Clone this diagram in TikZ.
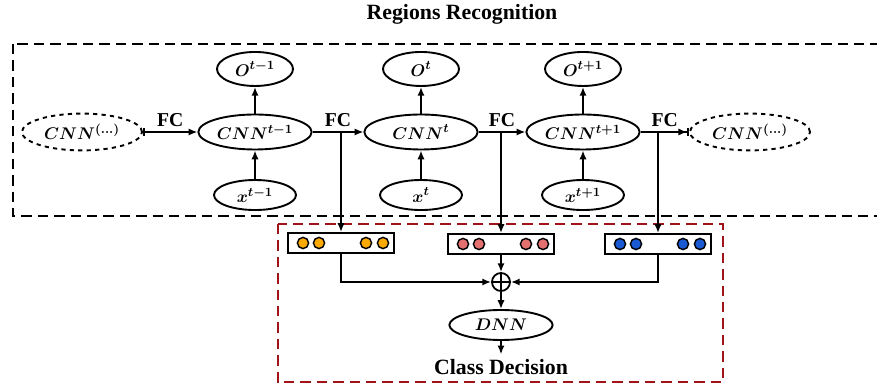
\documentclass[tikz,border=0pt]{standalone}
\usepackage{fontspec}
\setmainfont{Liberation Serif}
\usetikzlibrary{shapes.geometric, arrows.meta, positioning, calc}

\definecolor{framered}{RGB}{160,20,25}
\definecolor{dotorange}{RGB}{255,170,0}
\definecolor{dotpink}{RGB}{228,112,112}
\definecolor{dotblue}{RGB}{25,90,210}

\begin{document}
\begin{tikzpicture}[
  x=0.025cm, y=-0.025cm,
  font=\fontsize{12.5}{14}\selectfont\bfseries\boldmath,
  node distance=1.575cm,
  >={Latex[length=2.2mm,width=1.8mm]},
  cellnode/.style={ellipse, draw, line width=1.35pt, fill=white, inner sep=0pt, minimum width=2.83cm, minimum height=0.875cm},
  outnode/.style={ellipse, draw, line width=1.35pt, inner sep=0pt, minimum width=1.9cm, minimum height=0.85cm},
  innode/.style={ellipse, draw, line width=1.35pt, inner sep=0pt, minimum width=2.05cm, minimum height=0.75cm},
  ghostnode/.style={ellipse, draw, line width=1.35pt, dashed, inner sep=0pt, minimum width=3cm, minimum height=0.92cm},
  vecbox/.style={rectangle, draw, line width=1.35pt, minimum width=2.65cm, minimum height=0.5cm},
  featdot/.style={circle, draw, line width=1pt, inner sep=0pt, minimum size=0.28cm},
  flow/.style={->, line width=1.3pt},
  fclabel/.style={font=\fontsize{14}{16}\selectfont\bfseries},
  caption/.style={font=\fontsize{15.5}{18}\selectfont\bfseries},
  regionframe/.style={line width=1.8pt, dash pattern=on 0.26cm off 0.15cm}
]
\useasboundingbox (0,0) rectangle (877,385);
\clip (0,0) rectangle (877,385);

% Frames
\node[caption] (title) at (462,14) {Regions Recognition};
\draw[regionframe] (13,44) rectangle (890,216);
\draw[regionframe, draw=framered] (278,224) rectangle (723,382);

% Recurrent chain
\node[ghostnode] (prev) at (82,132) {$CNN^{(\ldots)}$};
\node[cellnode] (cnn1) at (255,132) {$CNN^{t-1}$};
\node[cellnode] (cnn2) at (421,132) {$CNN^{t}$};
\node[cellnode] (cnn3) at (583,132) {$CNN^{t+1}$};
\node[ghostnode] (next) at (750,132) {$CNN^{(\ldots)}$};

\node[outnode, above of=cnn1] (out1) {$O^{t-1}$};
\node[outnode, above of=cnn2] (out2) {$O^{t}$};
\node[outnode, above of=cnn3] (out3) {$O^{t+1}$};
\node[innode, below of=cnn1] (in1) {$x^{t-1}$};
\node[innode, below of=cnn2] (in2) {$x^{t}$};
\node[innode, below of=cnn3] (in3) {$x^{t+1}$};

\foreach \i in {1,2,3} {
  \draw[flow] (cnn\i) -- (out\i);
  \draw[flow] (in\i) -- (cnn\i);
}

\draw[line width=1.3pt, {Bar[width=2mm]}-{Latex[length=2.2mm,width=1.8mm]}] (prev) -- node[fclabel, above] {FC} (cnn1);
\draw[flow] (cnn1) -- node[fclabel, above] {FC} (cnn2);
\draw[flow] (cnn2) -- node[fclabel, above] {FC} (cnn3);
\draw[line width=1.3pt, -{Latex[length=2.2mm,width=1.8mm]Bar[width=2mm]}] (cnn3) -- node[fclabel, above] {FC} (next);

% Feature vectors
\node[vecbox] (vec1) at (341,243) {};
\node[vecbox] (vec2) at (501,244) {};
\node[vecbox] (vec3) at (658,244) {};
\foreach \dx [count=\k] in {-38,-22,25,42} {
  \node[featdot, fill=dotorange] (a\k) at ([xshift=\dx*0.025cm]vec1.center) {};
  \node[featdot, fill=dotpink] (b\k) at ([xshift=\dx*0.025cm]vec2.center) {};
  \node[featdot, fill=dotblue] (c\k) at ([xshift=\dx*0.025cm]vec3.center) {};
}

\draw[flow] (vec1.north |- cnn1.east) -- (vec1.north);
\draw[flow] (vec2.north |- cnn2.east) -- (vec2.north);
\draw[flow] (vec3.north |- cnn3.east) -- (vec3.north);

% Fusion and decision
\node[circle, draw, line width=1.3pt, minimum size=0.45cm, inner sep=0pt,
  path picture={\draw[line width=1.3pt] (path picture bounding box.north) -- (path picture bounding box.south)
    (path picture bounding box.west) -- (path picture bounding box.east);}] (sum) at (501,282) {};
\node[cellnode, minimum width=2.58cm, minimum height=0.75cm] (dnn) at (501,325) {$DNN$};
\node[caption] (decision) at (501,367) {Class Decision};

\draw[flow] (vec1.south) |- (sum.west);
\draw[flow] (vec3.south) |- (sum.east);
\draw[flow] (vec2) -- (sum);
\draw[flow] (sum) -- (dnn);
\draw[flow] (dnn) -- (decision);

\end{tikzpicture}
\end{document}
